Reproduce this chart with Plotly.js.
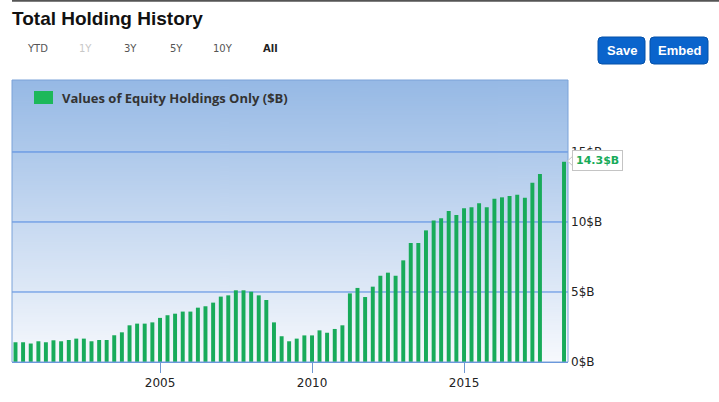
<!DOCTYPE html>
<html><head><meta charset="utf-8">
<script src="https://cdn.plot.ly/plotly-3.0.1.min.js"></script>
<style>html,body{margin:0;padding:0;background:#fff;}#chart{width:719px;height:402px;}</style>
</head><body><div id="chart"></div>
<script>
// ---- data ----
const quarterDates = [
 '2000-03-31','2000-06-30','2000-09-30','2000-12-31',
 '2001-03-31','2001-06-30','2001-09-30','2001-12-31',
 '2002-03-31','2002-06-30','2002-09-30','2002-12-31',
 '2003-03-31','2003-06-30','2003-09-30','2003-12-31',
 '2004-03-31','2004-06-30','2004-09-30','2004-12-31',
 '2005-03-31','2005-06-30','2005-09-30','2005-12-31',
 '2006-03-31','2006-06-30','2006-09-30','2006-12-31',
 '2007-03-31','2007-06-30','2007-09-30','2007-12-31',
 '2008-03-31','2008-06-30','2008-09-30','2008-12-31',
 '2009-03-31','2009-06-30','2009-09-30','2009-12-31',
 '2010-03-31','2010-06-30','2010-09-30','2010-12-31',
 '2011-03-31','2011-06-30','2011-09-30','2011-12-31',
 '2012-03-31','2012-06-30','2012-09-30','2012-12-31',
 '2013-03-31','2013-06-30','2013-09-30','2013-12-31',
 '2014-03-31','2014-06-30','2014-09-30','2014-12-31',
 '2015-03-31','2015-06-30','2015-09-30','2015-12-31',
 '2016-03-31','2016-06-30','2016-09-30','2016-12-31',
 '2017-03-31','2017-06-30','2018-04-15'
];
const equityValues = [
 1.41,1.41,1.32,1.48,
 1.41,1.55,1.48,1.57,
 1.67,1.67,1.48,1.57,
 1.57,1.91,2.12,2.62,
 2.74,2.74,2.83,3.15,
 3.34,3.45,3.60,3.60,
 3.88,3.98,4.24,4.67,
 4.76,5.12,5.12,5.02,
 4.76,4.43,2.83,1.84,
 1.48,1.67,1.90,1.90,
 2.26,2.09,2.36,2.62,
 4.90,5.29,4.64,5.38,
 6.16,6.38,6.16,7.26,
 8.50,8.50,9.40,10.10,
 10.27,10.79,10.50,10.98,
 11.05,11.34,11.05,11.66,
 11.76,11.85,11.95,11.73,
 12.80,13.42,14.30
];
const seriesName = 'Values of Equity Holdings Only ($B)';
const chartTitle = 'Total Holding History';
const yTickVals = [0, 5, 10, 15];
const yTickText = ['0$B', '5$B', '10$B', '15$B'];
const rangeLabels = ['YTD', '1Y', '3Y', '5Y', '10Y', 'All'];
const buttonLabels = ['Save', 'Embed'];

// ---- geometry / style ----
const W = 719, H = 402, L = 12, R = 568, T = 80, B = 362;
const px = X => (X - L) / (R - L);
const py = Y => (B - Y) / (B - T);
const green = '#18ab5a';

// background gradient image
const cv = document.createElement('canvas');
cv.width = 4; cv.height = 256;
const ctx = cv.getContext('2d');
const g = ctx.createLinearGradient(0, 0, 0, 256);
g.addColorStop(0, '#96b9e5');
g.addColorStop(1, '#f7f9fd');
ctx.fillStyle = g; ctx.fillRect(0, 0, 4, 256);
const bgURL = cv.toDataURL('image/png');

const trace = {
  type: 'bar', x: quarterDates, y: equityValues, name: seriesName,
  marker: {color: green}, width: 4.1e9, hoverinfo: 'skip', showlegend: false
};

const rangeX = [37.5, 85, 130, 176, 223, 270];
const rangeColor = ['#555', '#c8c8c8', '#555', '#555', '#555', '#222'];
const annotations = [];
rangeLabels.forEach((t, i) => annotations.push({
  xref: 'paper', yref: 'paper', x: px(rangeX[i]), y: py(48), text: t,
  showarrow: false, xanchor: 'center', yanchor: 'middle',
  font: {family: 'DejaVu Sans, Verdana, sans-serif', size: 10, color: rangeColor[i],
         weight: i === rangeLabels.length - 1 ? 'bold' : 'normal'}
}));
const btn = [[598, 645], [650, 708]];
const shapes = [];
buttonLabels.forEach((t, i) => {
  const x0 = btn[i][0], x1 = btn[i][1], y0 = 37, y1 = 64, r = 4;
  shapes.push({
    type: 'path', xref: 'paper', yref: 'paper', layer: 'above',
    path: `M${px(x0 + r)},${py(y0)} L${px(x1 - r)},${py(y0)} Q${px(x1)},${py(y0)} ${px(x1)},${py(y0 + r)} L${px(x1)},${py(y1 - r)} Q${px(x1)},${py(y1)} ${px(x1 - r)},${py(y1)} L${px(x0 + r)},${py(y1)} Q${px(x0)},${py(y1)} ${px(x0)},${py(y1 - r)} L${px(x0)},${py(y0 + r)} Q${px(x0)},${py(y0)} ${px(x0 + r)},${py(y0)} Z`,
    fillcolor: '#0a64cc', line: {color: '#0550a8', width: 1}
  });
  annotations.push({
    xref: 'paper', yref: 'paper', x: px((x0 + x1) / 2), y: py(50.5), text: t,
    showarrow: false, xanchor: 'center', yanchor: 'middle',
    font: {family: 'Liberation Sans Narrow, Arial Narrow, Liberation Sans, sans-serif', size: 13, color: '#fff', weight: 'bold'}
  });
});
// top rule
shapes.push({type: 'line', xref: 'paper', yref: 'paper', x0: px(12), x1: px(719), y0: py(0.8), y1: py(0.8),
  line: {color: '#555', width: 2}});
// horizontal grid lines drawn as shapes at the tick values (blue)
yTickVals.slice(1).forEach(v => shapes.push({type: 'line', xref: 'paper', yref: 'y', x0: 0, x1: 1, y0: v, y1: v,
  line: {color: '#4f86e0', width: 1}, layer: 'below'}));
// plot frame
shapes.push({type: 'rect', xref: 'paper', yref: 'paper', x0: 0, x1: 1, y0: 0, y1: 1,
  line: {color: '#7aa2d8', width: 1}, layer: 'above'});
// legend swatch + label
shapes.push({type: 'rect', xref: 'paper', yref: 'paper', x0: px(34), x1: px(53), y0: py(104), y1: py(91),
  fillcolor: '#1db85a', line: {width: 0}, layer: 'above'});
annotations.push({
  xref: 'paper', yref: 'paper', x: px(60), y: py(97.5), text: seriesName,
  showarrow: false, xanchor: 'left', yanchor: 'middle',
  font: {family: 'Open Sans, sans-serif', size: 13, color: '#333', weight: 'bold'}
});
// latest value callout
const lastIdx = equityValues.length - 1;
shapes.push({type: 'path', xref: 'paper', yref: 'paper', layer: 'above',
  path: `M${px(574)},${py(155)} L${px(567.5)},${py(161)} L${px(574)},${py(167)} Z`,
  fillcolor: '#fff', line: {color: '#c4c4c4', width: 1}});
annotations.push({
  x: quarterDates[lastIdx], y: equityValues[lastIdx], xref: 'x', yref: 'y',
  text: equityValues[lastIdx].toFixed(1) + '$B', showarrow: false,
  xanchor: 'left', yanchor: 'middle', xshift: 8, yshift: 1,
  bgcolor: '#fff', bordercolor: '#c4c4c4', borderwidth: 1, borderpad: 3,
  font: {family: 'DejaVu Sans, Verdana, sans-serif', size: 11, color: green, weight: 'bold'}
});

const layout = {
  width: W, height: H,
  margin: {l: L, r: W - R, t: T, b: H - B, pad: 0},
  paper_bgcolor: '#fff', plot_bgcolor: 'rgba(0,0,0,0)',
  title: {text: chartTitle, xref: 'container', yref: 'container', x: 12 / W, y: 1 - 18 / H,
          xanchor: 'left', yanchor: 'middle',
          font: {family: 'Liberation Sans, Arial, sans-serif', size: 19, color: '#111', weight: 'bold'}},
  showlegend: false,
  xaxis: {
    type: 'date', range: ['2000-02-18', '2018-06-02'],
    tick0: '2005-01-01', dtick: 'M60', tickformat: '%Y',
    ticks: 'outside', ticklen: 10, tickcolor: '#6f98d2', tickwidth: 1,
    showline: true, linecolor: '#5d8ee0', linewidth: 1,
    showgrid: false, zeroline: false, fixedrange: true,
    tickfont: {family: 'DejaVu Sans, Verdana, sans-serif', size: 12, color: '#222'}
  },
  yaxis: {
    side: 'right', range: [0, 20.14], tickvals: yTickVals, ticktext: yTickText,
    showgrid: false, zeroline: false,
    showline: false, ticks: '', fixedrange: true, ticklabelstandoff: 2,
    tickfont: {family: 'DejaVu Sans, Verdana, sans-serif', size: 12, color: '#222'}
  },
  images: [{source: bgURL, xref: 'paper', yref: 'paper', x: 0, y: 1, sizex: 1, sizey: 1,
            xanchor: 'left', yanchor: 'top', sizing: 'stretch', layer: 'below'}],
  shapes: shapes,
  annotations: annotations
};

Plotly.newPlot('chart', [trace], layout, {displayModeBar: false, staticPlot: true});
</script>
</body></html>
